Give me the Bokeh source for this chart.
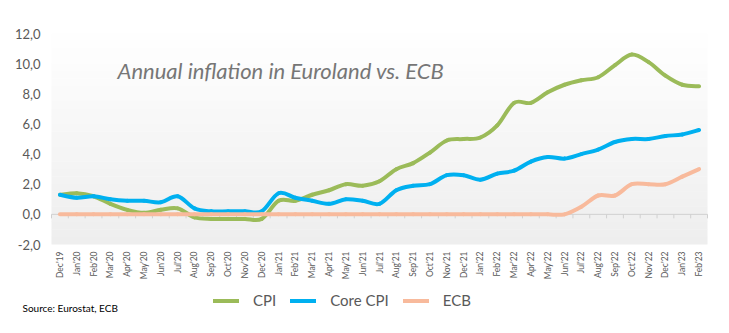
import math
import numpy as np
from bokeh.plotting import figure
from bokeh.core.properties import value
from bokeh.models import Range1d, Legend, LegendItem, Label, BoxAnnotation
from bokeh.embed import file_html
from bokeh.resources import INLINE

months = ["Dec'19", "Jan'20", "Feb'20", "Mar'20", "Apr'20", "May'20", "Jun'20",
          "Jul'20", "Aug'20", "Sep'20", "Oct'20", "Nov'20", "Dec'20",
          "Jan'21", "Feb'21", "Mar'21", "Apr'21", "May'21", "Jun'21",
          "Jul'21", "Aug'21", "Sep'21", "Oct'21", "Nov'21", "Dec'21",
          "Jan'22", "Feb'22", "Mar'22", "Apr'22", "May'22", "Jun'22",
          "Jul'22", "Aug'22", "Sep'22", "Oct'22", "Nov'22", "Dec'22",
          "Jan'23", "Feb'23"]
cpi = [1.3, 1.4, 1.2, 0.7, 0.3, 0.1, 0.3, 0.4, -0.2, -0.3, -0.3, -0.3, -0.3,
       0.9, 0.9, 1.3, 1.6, 2.0, 1.9, 2.2, 3.0, 3.4, 4.1, 4.9, 5.0,
       5.1, 5.9, 7.4, 7.4, 8.1, 8.6, 8.9, 9.1, 9.9, 10.6, 10.1, 9.2, 8.6, 8.5]
core_cpi = [1.3, 1.1, 1.2, 1.0, 0.9, 0.9, 0.8, 1.2, 0.4, 0.2, 0.2, 0.2, 0.2,
            1.4, 1.1, 0.9, 0.7, 1.0, 0.9, 0.7, 1.6, 1.9, 2.0, 2.6, 2.6,
            2.3, 2.7, 2.9, 3.5, 3.8, 3.7, 4.0, 4.3, 4.8, 5.0, 5.0, 5.2, 5.3, 5.6]
ecb = [0.0] * 31 + [0.5, 1.25, 1.25, 2.0, 2.0, 2.0, 2.5, 3.0]
y_ticks = [-2, 0, 2, 4, 6, 8, 10, 12]
y_tick_labels = ["-2,0", "0,0", "2,0", "4,0", "6,0", "8,0", "10,0", "12,0"]
series_names = ["CPI", "Core CPI", "ECB"]
series_colors = ["#9BBB59", "#00B0F0", "#F8BA9C"]

title_text = "Annual inflation in Euroland vs. ECB"
source_text = "Source: Eurostat, ECB"

FONT = "Lato"
TXT = "#595959"

W, H = 729, 333
# plot-area margins in pixels
ML, MR, MT, MB = 51, 22, 33, 89

n = len(months)
x = np.arange(n, dtype=float)
x_lo, x_hi = -0.5, n - 0.5
y_lo, y_hi = y_ticks[0], y_ticks[-1]
dx = (W - ML - MR) / (x_hi - x_lo)   # px per category
dy = (H - MT - MB) / (y_hi - y_lo)   # px per unit

p = figure(width=W, height=H, output_backend="svg", toolbar_location=None,
           x_range=Range1d(x_lo - ML / dx, x_hi + MR / dx),
           y_range=Range1d(y_lo - MB / dy, y_hi + MT / dy),
           x_axis_location=None, y_axis_location=None, min_border=0)
p.outline_line_color = None
p.grid.visible = False
p.background_fill_color = "white"
p.border_fill_color = "white"

# gradient plot-area background (white at top, light gray at bottom)
edges = np.linspace(y_lo, y_hi, 29)
for i in range(len(edges) - 1):
    t = (edges[i] - y_lo) / (y_hi - y_lo)
    g = int(round(238 + (255 - 238) * t))
    col = "#%02x%02x%02x" % (g, g, g)
    p.add_layout(BoxAnnotation(left=x_lo, right=x_hi, bottom=edges[i],
                               top=min(edges[i + 1] + 0.02, y_hi),
                               fill_color=col, fill_alpha=1, line_color=None,
                               level="underlay"))

# category axis line at zero with tick marks between categories
p.segment(x0=[x_lo], x1=[x_hi], y0=[0], y1=[0], line_color="#D0D0D0", line_width=1)
bounds = np.arange(n + 1) - 0.5
p.segment(x0=bounds, x1=bounds, y0=0, y1=-4 / dy, line_color="#D0D0D0", line_width=1)

# tick labels
p.text(x=[x_lo - 11 / dx] * len(y_ticks), y=y_ticks, text=y_tick_labels,
       text_align="right", text_baseline="middle", text_font=value(FONT),
       text_font_size="13px", text_color=TXT)
p.text(x=x, y=[y_lo - 7 / dy] * n, text=months, angle=math.pi / 2,
       text_align="right", text_baseline="middle", text_font=value(FONT),
       text_font_size="8.5px", text_color=TXT)


def smooth(xs, ys):
    xs = np.asarray(xs, float)
    ys = np.asarray(ys, float)
    px = np.concatenate([[xs[0]], xs, [xs[-1]]])
    py = np.concatenate([[ys[0]], ys, [ys[-1]]])
    d = dict(x0=[], y0=[], x1=[], y1=[], cx0=[], cy0=[], cx1=[], cy1=[])
    for i in range(len(xs) - 1):
        j = i + 1
        d["x0"].append(px[j]); d["y0"].append(py[j])
        d["x1"].append(px[j + 1]); d["y1"].append(py[j + 1])
        d["cx0"].append(px[j] + (px[j + 1] - px[j - 1]) / 6)
        d["cy0"].append(py[j] + (py[j + 1] - py[j - 1]) / 6)
        d["cx1"].append(px[j + 1] - (px[j + 2] - px[j]) / 6)
        d["cy1"].append(py[j + 1] - (py[j + 2] - py[j]) / 6)
    return d


items = []
for nm, vals, col in zip(series_names, [cpi, core_cpi, ecb], series_colors):
    r = p.bezier(line_color=col, line_width=4, line_cap="round", **smooth(x, vals))
    items.append(LegendItem(label=nm, renderers=[r]))

# title inside the plot area
p.add_layout(Label(x=x_lo + (117 - ML) / dx, y=y_hi - (70 - MT) / dy,
                   text=title_text, text_font=FONT, text_font_style="italic",
                   text_font_size="22px", text_color="#767676",
                   text_baseline="middle"))

# source note
p.add_layout(Label(x=x_lo - (ML - 22) / dx, y=y_lo - (307 - (H - MB)) / dy,
                   text=source_text, text_font=FONT, text_font_size="10px",
                   text_color="#000000", text_baseline="middle"))

legend = Legend(items=items, orientation="horizontal", location=(213, 24),
                padding=0, margin=0, spacing=14, label_standoff=14,
                glyph_width=26, glyph_height=17,
                label_text_font=FONT, label_text_font_size="15px",
                label_text_color=TXT, border_line_color=None,
                background_fill_alpha=0)
p.add_layout(legend, "center")

open("out.html", "w").write(file_html(p, INLINE))
